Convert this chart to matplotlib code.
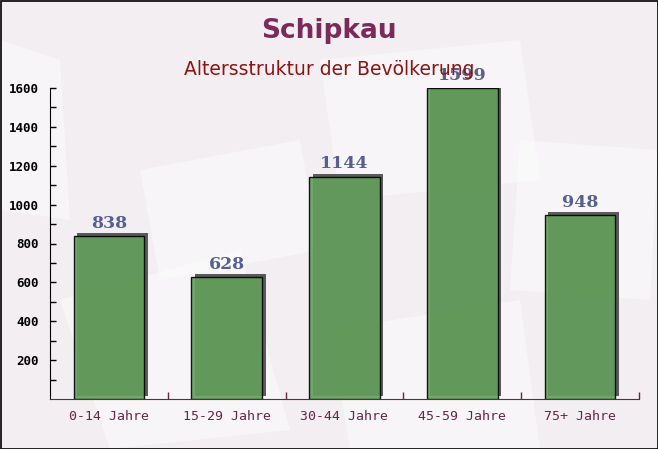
import matplotlib
matplotlib.use("Agg")
import matplotlib.pyplot as plt
import matplotlib.patheffects as pe
from matplotlib.patches import Polygon

categories = ["0-14 Jahre", "15-29 Jahre", "30-44 Jahre", "45-59 Jahre", "75+ Jahre"]
values = [838, 628, 1144, 1599, 948]
yticks = [200, 400, 600, 800, 1000, 1200, 1400, 1600]

fig = plt.figure(figsize=(6.58, 4.49), dpi=100)
fig.patch.set_facecolor("#f2eef1")

# dezente Hintergrundflächen (Briefumschläge angedeutet)
bg = fig.add_axes([0, 0, 1, 1], zorder=0)
bg.set_xlim(0, 658)
bg.set_ylim(449, 0)
bg.axis("off")
env = [
    [(140, 170), (300, 140), (320, 250), (160, 280)],
    [(320, 60), (520, 40), (540, 180), (340, 200)],
    [(520, 140), (658, 150), (650, 300), (510, 290)],
    [(60, 300), (240, 250), (290, 430), (110, 449)],
    [(330, 330), (520, 300), (540, 449), (350, 449)],
    [(0, 40), (60, 60), (70, 220), (0, 210)],
]
for pts in env:
    bg.add_patch(Polygon(pts, closed=True, facecolor="white", alpha=0.45, edgecolor="none"))
bg.add_patch(plt.Rectangle((0.5, 0.5), 657, 448, fill=False, edgecolor="black", lw=1.2))

ax = fig.add_axes([50 / 658, 50 / 449, 589 / 658, 311 / 449], zorder=1)
ax.patch.set_alpha(0)

x = range(len(categories))
bars = ax.bar(x, values, width=0.6, color="#63a05c", alpha=0.9,
              edgecolor="black", linewidth=1.0, zorder=3)
for b in bars:
    b.set_path_effects([
        pe.SimplePatchShadow(offset=(2.5, 2.2), shadow_rgbFace="#4a4a4a", alpha=0.9),
        pe.Normal(),
    ])

for xi, v in zip(x, values):
    ax.annotate(str(v), (xi, v), xytext=(0, 3), textcoords="offset points",
                ha="center", va="bottom", fontsize=12.5, fontweight="bold",
                family="DejaVu Serif", color="#56608e", zorder=5)

ax.set_xlim(-0.5, len(categories) - 0.5)
ax.set_ylim(0, 1600)
ax.set_yticks(yticks)
ax.set_yticks(range(100, 1600, 200), minor=True)
ax.set_yticklabels([str(t) for t in yticks], family="DejaVu Sans Mono",
                   fontweight="bold", fontsize=9, color="black")
ax.set_xticks(list(x))
ax.set_xticklabels(categories, family="DejaVu Sans Mono", fontsize=9.5,
                   color="#6a2448")
ax.set_xticks([i + 0.5 for i in x], minor=True)

ax.tick_params(axis="y", which="both", direction="in", length=4, width=1, pad=8)
ax.tick_params(axis="x", which="major", length=0, pad=8)
ax.tick_params(axis="x", which="minor", direction="in", length=5, width=1,
               color="#6a2448")

for s in ["top", "right"]:
    ax.spines[s].set_visible(False)
ax.spines["left"].set_color("black")
ax.spines["bottom"].set_color("#6a2448")

fig.text(0.5, 0.932, "Schipkau", ha="center", va="center", fontsize=19,
         fontweight="bold", color="#7b2a5a", family="DejaVu Sans")
fig.text(0.5, 0.845, "Altersstruktur der Bevölkerung", ha="center", va="center",
         fontsize=13.5, color="#8b1414", family="DejaVu Sans")

fig.savefig("out.png", dpi=100, facecolor=fig.get_facecolor())
